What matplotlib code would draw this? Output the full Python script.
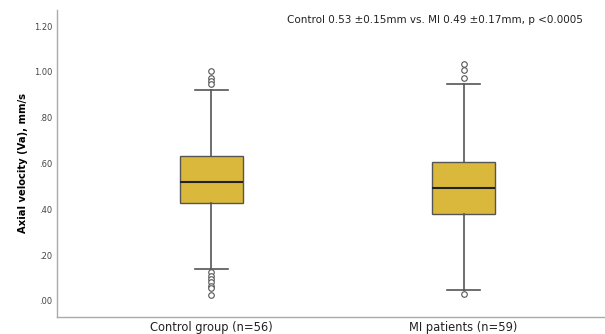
import matplotlib.pyplot as plt
import numpy as np

# values
groups = ["Control group (n=56)", "MI patients (n=59)"]
q1 = [0.426, 0.378]
med = [0.520, 0.493]
q3 = [0.632, 0.606]
whislo = [0.139, 0.049]
whishi = [0.923, 0.949]
fliers_ctrl = [1.004, 0.972, 0.958, 0.947, 0.125, 0.110, 0.096, 0.081, 0.067, 0.055, 0.027]
fliers_mi = [1.033, 1.009, 0.972, 0.030]
ticks = [0.0, 0.2, 0.4, 0.6, 0.8, 1.0, 1.2]
tick_labels = [".00", ".20", ".40", ".60", ".80", "1.00", "1.20"]
note = "Control 0.53 \u00b10.15mm vs. MI 0.49 \u00b10.17mm, p <0.0005"

stats = []
for i, fl in enumerate([fliers_ctrl, fliers_mi]):
    stats.append({"q1": q1[i], "med": med[i], "q3": q3[i],
                  "whislo": whislo[i], "whishi": whishi[i], "fliers": fl})

fig = plt.figure(figsize=(6.05, 3.34), dpi=100)
ax = fig.add_axes([0.094, 0.051, 0.906, 0.919])

ax.bxp(stats, positions=[1, 2], widths=0.25, patch_artist=True,
       boxprops=dict(facecolor="#D9B83B", edgecolor="#555555", linewidth=1),
       medianprops=dict(color="#222222", linewidth=1.5),
       whiskerprops=dict(color="#555555", linewidth=1.2),
       capprops=dict(color="#555555", linewidth=1.2),
       capwidths=0.13,
       flierprops=dict(marker="o", markersize=4, markerfacecolor="white",
                       markeredgecolor="#555555", markeredgewidth=0.8))

ax.set_xlim(0.389, 2.56)
ax.set_ylim(-0.07, 1.27)
ax.set_yticks(ticks)
ax.set_yticklabels(tick_labels, fontsize=6, color="#444444")
ax.set_xticks([1, 2])
ax.set_xticklabels(groups, fontsize=8.3, color="#222222")
ax.tick_params(axis="y", length=0, pad=3)
ax.tick_params(axis="x", length=0, pad=3)

for s in ["top", "right"]:
    ax.spines[s].set_visible(False)
for s in ["left", "bottom"]:
    ax.spines[s].set_color("#aaaaaa")
    ax.spines[s].set_linewidth(1)

ax.set_ylabel("Axial velocity (Va), mm/s", fontsize=7.2, fontweight="bold")
ax.yaxis.set_label_coords(-0.053, 0.5)
ax.text(0.96, 0.985, note, transform=ax.transAxes, ha="right", va="top",
        fontsize=7.5, color="#222222")

fig.savefig("out.png", dpi=100)
